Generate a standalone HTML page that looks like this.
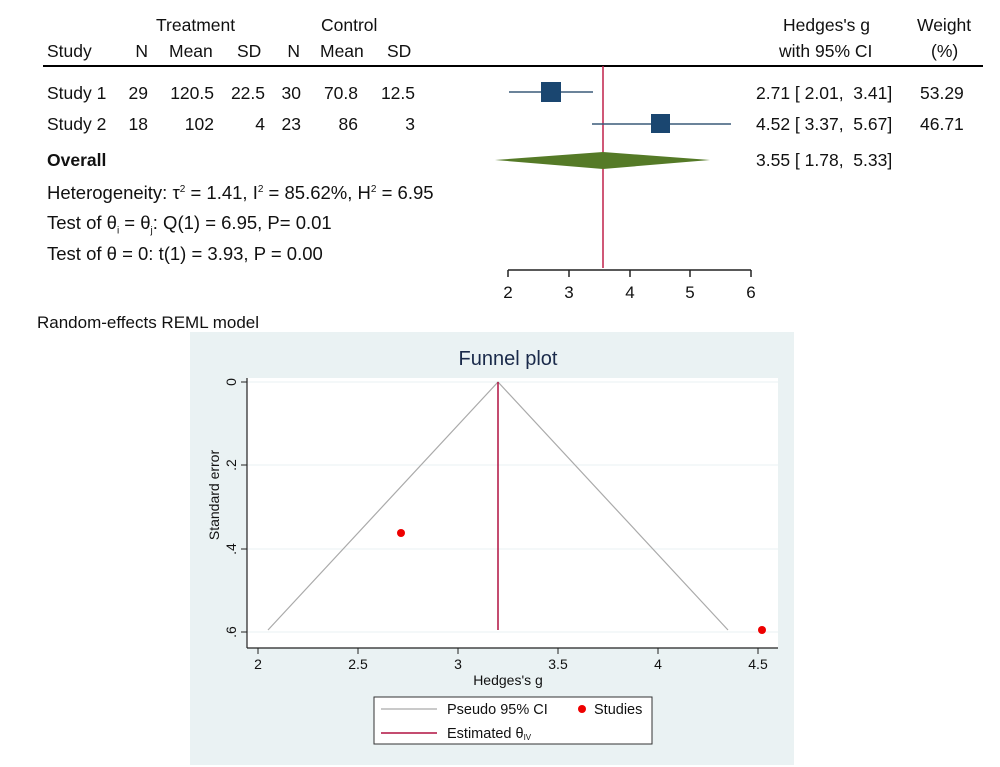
<!DOCTYPE html>
<html><head><meta charset="utf-8"><style>
body{margin:0;width:1000px;height:767px;background:#fff;position:relative;overflow:hidden;font-family:"Liberation Sans",sans-serif;color:#111}
.t{position:absolute;font-size:16.5px;white-space:nowrap;line-height:1}
.b{font-size:18.5px}
.c{font-size:17.5px}
.r{text-align:right}
</style></head><body>
<svg width="1000" height="767" style="position:absolute;left:0;top:0" font-family="Liberation Sans, sans-serif">
<line x1="43" y1="66" x2="983" y2="66" stroke="#000" stroke-width="2"/>
<line x1="603" y1="66" x2="603" y2="268" stroke="#c0204a" stroke-width="1.5"/>
<line x1="509" y1="92" x2="593" y2="92" stroke="#3a5a78" stroke-width="1.5"/>
<rect x="541" y="82" width="20" height="20" fill="#1a4670"/>
<line x1="592" y1="124" x2="731" y2="124" stroke="#3a5a78" stroke-width="1.5"/>
<rect x="651" y="114" width="19" height="19" fill="#1a4670"/>
<polygon points="495,160 603,152 710,160 603,169" fill="#557a27"/>
<line x1="508" y1="270" x2="751" y2="270" stroke="#222" stroke-width="1.5"/>
<g stroke="#222" stroke-width="1.5"><line x1="508" y1="270" x2="508" y2="277"/><line x1="569" y1="270" x2="569" y2="277"/><line x1="630" y1="270" x2="630" y2="277"/><line x1="690" y1="270" x2="690" y2="277"/><line x1="751" y1="270" x2="751" y2="277"/></g>
<g font-size="17" text-anchor="middle" fill="#111"><text x="508" y="298">2</text><text x="569" y="298">3</text><text x="630" y="298">4</text><text x="690" y="298">5</text><text x="751" y="298">6</text></g>
<rect x="190" y="332" width="604" height="433" fill="#eaf2f3"/>
<rect x="247" y="378" width="531" height="270" fill="#fff"/>
<g stroke="#eaf2f3" stroke-width="1"><line x1="247" y1="465" x2="778" y2="465"/><line x1="247" y1="549" x2="778" y2="549"/><line x1="247" y1="632" x2="778" y2="632"/><line x1="247" y1="382" x2="778" y2="382"/></g>
<text x="508" y="365" font-size="20" text-anchor="middle" fill="#1a2a4a">Funnel plot</text>
<polyline points="268,630 498,382 728,630" fill="none" stroke="#aaa" stroke-width="1.2"/>
<line x1="498" y1="382" x2="498" y2="630" stroke="#b01040" stroke-width="1.5"/>
<circle cx="401" cy="533" r="4" fill="#e00"/>
<circle cx="762" cy="630" r="4" fill="#e00"/>
<line x1="247" y1="378" x2="247" y2="648" stroke="#222" stroke-width="1.2"/>
<line x1="247" y1="648" x2="778" y2="648" stroke="#222" stroke-width="1.2"/>
<g stroke="#222"><line x1="241" y1="382" x2="247" y2="382"/><line x1="241" y1="465" x2="247" y2="465"/><line x1="241" y1="549" x2="247" y2="549"/><line x1="241" y1="632" x2="247" y2="632"/>
<line x1="258" y1="648" x2="258" y2="654"/><line x1="358" y1="648" x2="358" y2="654"/><line x1="458" y1="648" x2="458" y2="654"/><line x1="558" y1="648" x2="558" y2="654"/><line x1="658" y1="648" x2="658" y2="654"/><line x1="758" y1="648" x2="758" y2="654"/></g>
<g font-size="14" fill="#111" text-anchor="middle">
<text transform="translate(236,382) rotate(-90)">0</text>
<text transform="translate(236,465) rotate(-90)">.2</text>
<text transform="translate(236,549) rotate(-90)">.4</text>
<text transform="translate(236,632) rotate(-90)">.6</text>
<text transform="translate(219,495) rotate(-90)">Standard error</text>
<text x="258" y="669">2</text><text x="358" y="669">2.5</text><text x="458" y="669">3</text><text x="558" y="669">3.5</text><text x="658" y="669">4</text><text x="758" y="669">4.5</text>
<text x="508" y="685">Hedges's g</text>
</g>
<rect x="374" y="697" width="278" height="47" fill="#fff" stroke="#333" stroke-width="1"/>
<line x1="381" y1="709" x2="437" y2="709" stroke="#aaa" stroke-width="1.2"/>
<line x1="381" y1="733" x2="437" y2="733" stroke="#b01040" stroke-width="1.5"/>
<circle cx="582" cy="709" r="4" fill="#e00"/>
<g font-size="14.5" fill="#111"><text x="447" y="714">Pseudo 95% CI</text><text x="594" y="714">Studies</text><text x="447" y="738">Estimated θ<tspan font-size="8" dy="2">IV</tspan></text></g>
</svg>
<div class="t" style="left:156px;top:17px;font-size:17.5px">Treatment</div>
<div class="t" style="left:321px;top:17px;font-size:17.5px">Control</div>
<div class="t" style="left:47px;top:43px;font-size:17.5px">Study</div>
<div class="t r" style="left:118px;top:43px;width:30px;font-size:17.5px">N</div>
<div class="t" style="left:169px;top:43px;font-size:17.5px">Mean</div>
<div class="t" style="left:237px;top:43px;font-size:17.5px">SD</div>
<div class="t r" style="left:270px;top:43px;width:30px;font-size:17.5px">N</div>
<div class="t" style="left:320px;top:43px;font-size:17.5px">Mean</div>
<div class="t" style="left:387px;top:43px;font-size:17.5px">SD</div>
<div class="t c" style="left:47px;top:85px">Study 1</div>
<div class="t r c" style="left:108px;top:85px;width:40px">29</div>
<div class="t r c" style="left:150px;top:85px;width:64px">120.5</div>
<div class="t r c" style="left:220px;top:85px;width:45px">22.5</div>
<div class="t r c" style="left:260px;top:85px;width:41px">30</div>
<div class="t r c" style="left:300px;top:85px;width:58px">70.8</div>
<div class="t r c" style="left:360px;top:85px;width:55px">12.5</div>
<div class="t c" style="left:47px;top:116px">Study 2</div>
<div class="t r c" style="left:108px;top:116px;width:40px">18</div>
<div class="t r c" style="left:150px;top:116px;width:64px">102</div>
<div class="t r c" style="left:220px;top:116px;width:45px">4</div>
<div class="t r c" style="left:260px;top:116px;width:41px">23</div>
<div class="t r c" style="left:300px;top:116px;width:58px">86</div>
<div class="t r c" style="left:360px;top:116px;width:55px">3</div>
<div class="t c" style="left:47px;top:152px;font-weight:bold">Overall</div>
<div class="t b" style="left:47px;top:184px">Heterogeneity: τ<sup style="font-size:10px">2</sup> = 1.41, I<sup style="font-size:10px">2</sup> = 85.62%, H<sup style="font-size:10px">2</sup> = 6.95</div>
<div class="t b" style="left:47px;top:214px">Test of θ<sub style="font-size:10px">i</sub> = θ<sub style="font-size:10px">j</sub>: Q(1) = 6.95, P= 0.01</div>
<div class="t b" style="left:47px;top:245px">Test of θ = 0: t(1) = 3.93, P = 0.00</div>
<div class="t" style="left:37px;top:314px;font-size:17px">Random-effects REML model</div>
<div class="t c" style="left:783px;top:17px">Hedges's g</div>
<div class="t c" style="left:779px;top:43px">with 95% CI</div>
<div class="t c" style="left:917px;top:17px">Weight</div>
<div class="t c" style="left:931px;top:43px">(%)</div>
<div class="t c" style="left:756px;top:85px">2.71 [ 2.01,&nbsp; 3.41]</div>
<div class="t c" style="left:920px;top:85px">53.29</div>
<div class="t c" style="left:756px;top:116px">4.52 [ 3.37,&nbsp; 5.67]</div>
<div class="t c" style="left:920px;top:116px">46.71</div>
<div class="t c" style="left:756px;top:152px">3.55 [ 1.78,&nbsp; 5.33]</div>
</body></html>
